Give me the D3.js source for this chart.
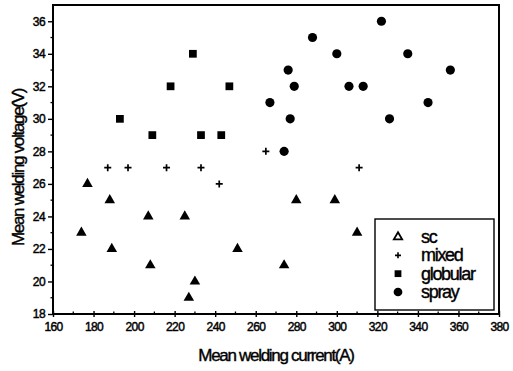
<!DOCTYPE html>
<html>
<head>
<meta charset="utf-8">
<script src="https://cdn.jsdelivr.net/npm/d3@7/dist/d3.min.js"></script>
<style>
  body { margin: 0; background: #fff; }
  text { font-family: "Liberation Sans", Arial, sans-serif; fill: #000; }
</style>
</head>
<body>
<script>
// values
var scCurrent = [174, 177, 188, 189, 207, 208, 225, 227, 230, 251, 274, 280, 299, 310];
var scVoltage = [23, 26, 25, 22, 24, 21, 24, 19, 20, 22, 21, 25, 25, 23];

var mixedCurrent = [187, 197, 216, 233, 242, 265, 311];
var mixedVoltage = [27, 27, 27, 27, 26, 28, 27];

var globularCurrent = [193, 209, 218, 229, 233, 243, 247];
var globularVoltage = [30, 29, 32, 34, 29, 29, 32];

var sprayCurrent = [267, 274, 276, 277, 279, 288, 300, 306, 313, 322, 326, 335, 345, 356];
var sprayVoltage = [31, 28, 33, 30, 32, 35, 34, 32, 32, 36, 30, 34, 31, 33];

var seriesNames = ["sc", "mixed", "globular", "spray"];
var xTicks = [160, 180, 200, 220, 240, 260, 280, 300, 320, 340, 360, 380];
var yTicks = [18, 20, 22, 24, 26, 28, 30, 32, 34, 36];

var W = 513, H = 371;
var margin = {top: 5, right: 14, bottom: 57, left: 53};

var svg = d3.select("body").append("svg")
  .attr("width", W).attr("height", H);

var x = d3.scaleLinear().domain([160, 380]).range([margin.left, W - margin.right]);
var y = d3.scaleLinear().domain([18, 37]).range([H - margin.bottom, margin.top]);

// frame
svg.append("rect")
  .attr("x", x(160)).attr("y", y(37))
  .attr("width", x(380) - x(160)).attr("height", y(18) - y(37))
  .attr("fill", "none").attr("stroke", "#000").attr("stroke-width", 2);

// x axis
var xAxis = svg.append("g")
  .attr("transform", "translate(0," + y(18) + ")")
  .call(d3.axisBottom(x).tickValues(xTicks).tickSize(3).tickPadding(5));
xAxis.select(".domain").remove();
xAxis.selectAll(".tick line").attr("y1", -3).attr("stroke-width", 1.4);
xAxis.selectAll(".tick text")
  .style("font-size", "12px").style("letter-spacing", "-0.6px")
  .attr("stroke", "#000").attr("stroke-width", 0.45);
svg.append("g").selectAll("line")
  .data(d3.range(170, 380, 20)).enter().append("line")
  .attr("x1", function(d) { return x(d); }).attr("x2", function(d) { return x(d); })
  .attr("y1", y(18)).attr("y2", y(18) - 2.5)
  .attr("stroke", "#000").attr("stroke-width", 1.3);

// y axis
var yAxis = svg.append("g")
  .attr("transform", "translate(" + x(160) + ",0)")
  .call(d3.axisLeft(y).tickValues(yTicks).tickSize(5).tickPadding(3));
yAxis.select(".domain").remove();
yAxis.selectAll(".tick line").attr("stroke-width", 1.4);
yAxis.selectAll(".tick text")
  .style("font-size", "12px").style("letter-spacing", "-0.6px")
  .attr("stroke", "#000").attr("stroke-width", 0.45);
svg.append("g").selectAll("line")
  .data(d3.range(19, 37, 2)).enter().append("line")
  .attr("x1", x(160)).attr("x2", x(160) - 2.5)
  .attr("y1", function(d) { return y(d); }).attr("y2", function(d) { return y(d); })
  .attr("stroke", "#000").attr("stroke-width", 1.3);

// axis titles
svg.append("text")
  .attr("x", (x(160) + x(380)) / 2).attr("y", 361)
  .attr("text-anchor", "middle")
  .attr("stroke", "#000").attr("stroke-width", 0.4)
  .style("font-size", "17px").style("letter-spacing", "-1.3px")
  .text("Mean welding current(A)");

svg.append("text")
  .attr("transform", "translate(24," + ((y(18) + y(37)) / 2 + 8) + ") rotate(-90)")
  .attr("text-anchor", "middle")
  .attr("stroke", "#000").attr("stroke-width", 0.4)
  .style("font-size", "17px").style("letter-spacing", "-1.3px")
  .text("Mean welding voltage(V)");

// markers
var triangle = d3.symbol().type(d3.symbolTriangle).size(48);
var square = d3.symbol().type(d3.symbolSquare).size(60);
var circle = d3.symbol().type(d3.symbolCircle).size(66);
function plus(s) { return "M" + (-s) + ",0H" + s + "M0," + (-s) + "V" + s; }

function drawSeries(xs, ys, draw) {
  var pts = xs.map(function(v, i) { return [v, ys[i]]; });
  var g = svg.append("g").selectAll("path").data(pts).enter().append("path")
    .attr("transform", function(d) { return "translate(" + x(d[0]) + "," + y(d[1]) + ")"; });
  draw(g);
}

drawSeries(scCurrent, scVoltage, function(g) {
  g.attr("d", triangle).attr("fill", "#000");
});
drawSeries(mixedCurrent, mixedVoltage, function(g) {
  g.attr("d", plus(3.5)).attr("fill", "none").attr("stroke", "#000").attr("stroke-width", 1.7);
});
drawSeries(globularCurrent, globularVoltage, function(g) {
  g.attr("d", square).attr("fill", "#000");
});
drawSeries(sprayCurrent, sprayVoltage, function(g) {
  g.attr("d", circle).attr("fill", "#000");
});

// legend
var lx = 375, ly = 219, lw = 119, lh = 91;
var legend = svg.append("g");
legend.append("rect")
  .attr("x", lx).attr("y", ly).attr("width", lw).attr("height", lh)
  .attr("fill", "#fff").attr("stroke", "#000").attr("stroke-width", 1.4);

var rowY = d3.scalePoint().domain(seriesNames).range([ly + 18, ly + 73]);
var row = legend.selectAll("g.row").data(seriesNames).enter().append("g")
  .attr("class", "row")
  .attr("transform", function(d) { return "translate(0," + rowY(d) + ")"; });

row.append("path")
  .attr("transform", "translate(398,0)")
  .attr("d", function(d) {
    if (d == "sc") return d3.symbol().type(d3.symbolTriangle).size(30)();
    if (d == "mixed") return plus(3);
    if (d == "globular") return d3.symbol().type(d3.symbolSquare).size(46)();
    return d3.symbol().type(d3.symbolCircle).size(60)();
  })
  .attr("fill", function(d) { return (d == "sc" || d == "mixed") ? "none" : "#000"; })
  .attr("stroke", function(d) { return (d == "sc" || d == "mixed") ? "#000" : "none"; })
  .attr("stroke-width", function(d) { return d == "sc" ? 1.8 : 1.6; });

row.append("text")
  .attr("x", 421).attr("y", 6)
  .attr("stroke", "#000").attr("stroke-width", 0.4)
  .style("font-size", "18px").style("letter-spacing", "-1.3px")
  .text(function(d) { return d; });
</script>
</body>
</html>
